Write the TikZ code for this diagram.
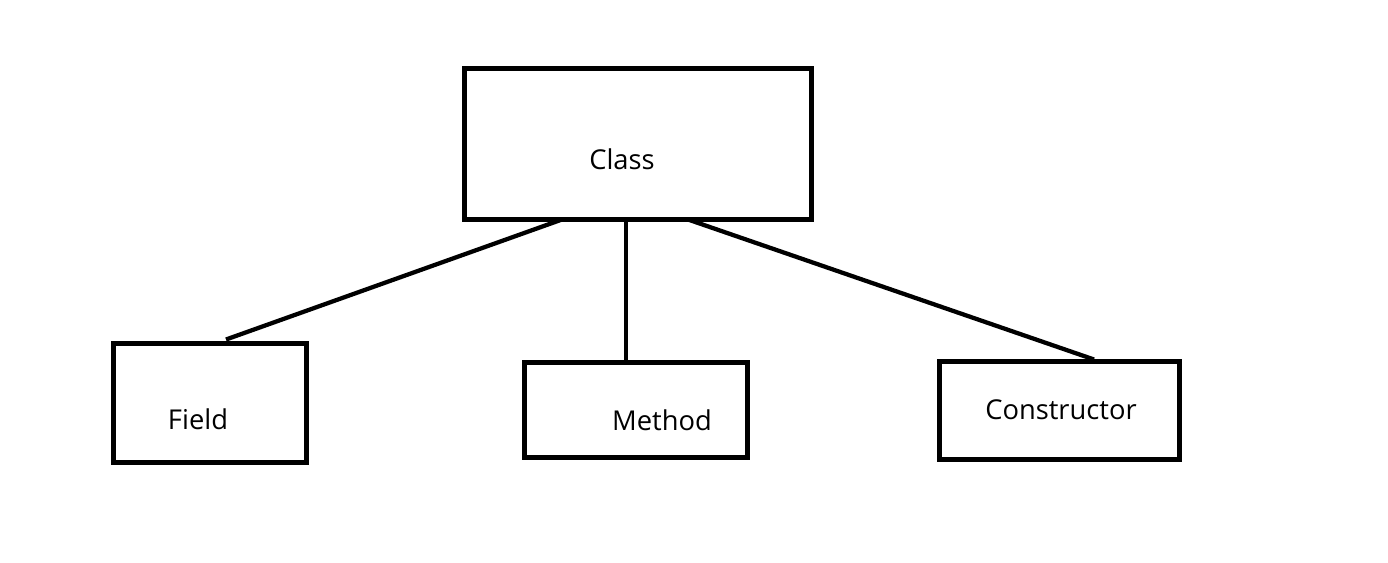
\documentclass[tikz,border=0pt]{standalone}
\usepackage{fontspec}
\setmainfont{Open Sans}
\usetikzlibrary{calc}
\begin{document}
\begin{tikzpicture}[x=0.75pt,y=-0.75pt,
  box/.style={draw=black,line width=4pt,minimum width=#1,inner sep=0pt,outer sep=0pt},
  lbl/.style={inner sep=0pt,font=\fontsize{20.5}{24}\selectfont},
  link/.style={draw=black,line width=3.2pt}]
\useasboundingbox (0,0) rectangle (1388,563);
\node[box=260.25pt,minimum height=113.25pt] (cls) at (638,144) {};
\node[box=144.75pt,minimum height=89.25pt] (fld) at (210,403) {};
\node[box=167.25pt,minimum height=71.25pt] (mth) at (636,410) {};
\node[box=180pt,minimum height=73.5pt] (ctr) at (1059.5,410.5) {};
\node[lbl] (tcls) at (622,159) {Class};
\node[lbl] (tfld) at (198,419) {Field};
\node[lbl] (tmth) at (662,420) {Method};
\node[lbl] (tctr) at (1061,410) {Constructor};
\draw[link] ($(cls.south west)+(97.5,0)$) -- ($(fld.north west)+(112.5,-4)$);
\draw[link] ($(cls.south west)+(161.5,2)$) -- ($(mth.north west)+(101.5,-1)$);
\draw[link] ($(cls.south west)+(223.5,0)$) -- ($(ctr.north west)+(154.5,-2)$);
\end{tikzpicture}
\end{document}
